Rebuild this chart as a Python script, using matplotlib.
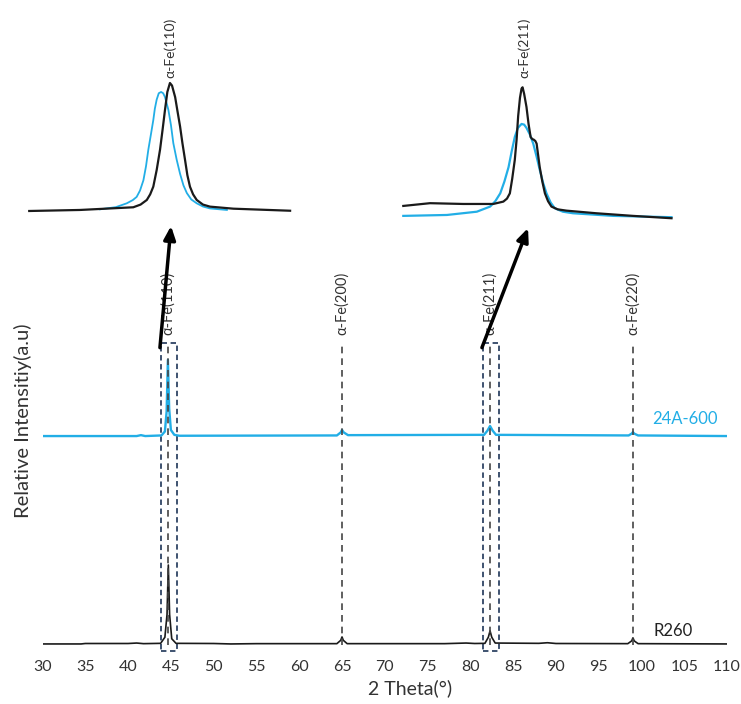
import matplotlib
matplotlib.use("Agg")
import matplotlib.pyplot as plt
from matplotlib.patches import Rectangle

plt.rcParams['font.family'] = ['Lato', 'DejaVu Sans']

# main XRD traces (2 theta in degrees, intensity in a.u.)
r260_2theta = [30, 34.5, 35, 40, 41, 41.8, 43.8, 44.3, 44.55, 44.7, 44.85, 45.1, 45.6, 50, 52, 55,
               64.4, 64.85, 65.0, 65.15, 65.6, 77, 79.5, 80.5, 81.7, 82.1, 82.3, 82.5, 82.9,
               88, 89, 90, 98.4, 98.85, 99.0, 99.15, 99.6, 110]
r260_int = [0.3, 0.3, 0.45, 0.45, 0.6, 0.4, 0.5, 2.5, 10, 26.2, 10, 2, 0.5, 0.45, 0.3, 0.4,
            0.4, 1.5, 2.6, 1.5, 0.4, 0.4, 0.6, 0.45, 0.5, 2.5, 4.6, 2.5, 0.6,
            0.5, 0.7, 0.45, 0.4, 1.3, 2.3, 1.3, 0.4, 0.3]

a24_2theta = [30, 41, 41.5, 42, 43.9, 44.3, 44.5, 44.65, 44.8, 45.0, 45.4, 46,
              64.4, 64.85, 65.0, 65.2, 65.7, 81.6, 82.0, 82.3, 82.6, 83.0,
              98.5, 98.85, 99.0, 99.15, 99.6, 110]
a24_int = [0, 0, 0.3, 0, 0.2, 1.5, 8, 25, 9, 2, 0.4, 0.1,
           0.2, 1.2, 2.0, 1.2, 0.3, 0.4, 1.8, 3.3, 1.8, 0.4,
           0.2, 0.8, 1.3, 0.8, 0.2, 0]
a24_offset = 68.5

peak_pos = [44.7, 65.0, 82.3, 99.0]
peak_names = ['α-Fe(110)', 'α-Fe(200)', 'α-Fe(211)', 'α-Fe(220)']
boxes = [(43.82, 45.69), (81.45, 83.4)]

# zoomed peaks (normalised)
z110_r260_x = [39.27, 41.22, 43.27, 43.55, 43.79, 43.92, 44.04, 44.17, 44.30, 44.40, 44.49, 44.58,
               44.68, 44.76, 44.88, 44.97, 45.07, 45.16, 45.26, 45.35, 45.45, 45.57, 45.71, 45.95,
               46.22, 47.12, 49.3]
z110_r260_y = [0.0, 0.008, 0.029, 0.05, 0.086, 0.13, 0.19, 0.32, 0.48, 0.64, 0.79, 0.93,
               1.0, 0.98, 0.89, 0.78, 0.66, 0.53, 0.40, 0.28, 0.19, 0.13, 0.086, 0.05,
               0.034, 0.018, 0.002]
z110_a24_x = [41.99, 42.6, 43.02, 43.25, 43.40, 43.53, 43.66, 43.76, 43.85, 43.95, 44.04, 44.10,
              44.17, 44.25, 44.34, 44.42, 44.49, 44.62, 44.72, 44.81, 44.94, 45.07, 45.20, 45.33,
              45.50, 45.71, 45.95, 46.22, 46.87]
z110_a24_y = [0.013, 0.03, 0.06, 0.085, 0.11, 0.16, 0.24, 0.35, 0.48, 0.60, 0.71, 0.80,
              0.87, 0.92, 0.93, 0.92, 0.89, 0.79, 0.67, 0.53, 0.40, 0.29, 0.20, 0.14,
              0.09, 0.06, 0.035, 0.02, 0.008]
z211_r260_x = [77.71, 78.74, 80.02, 81.17, 81.56, 81.70, 81.81, 81.90, 82.0, 82.07, 82.13, 82.20,
               82.26, 82.30, 82.36, 82.45, 82.53, 82.61, 82.67, 82.73, 82.79, 82.84, 82.90, 82.96,
               83.06, 83.16, 83.28, 83.41, 83.65, 83.99, 85.14, 86.55, 88.03]
z211_r260_y = [0.094, 0.115, 0.109, 0.109, 0.127, 0.15, 0.19, 0.30, 0.445, 0.60, 0.78, 0.92,
               0.99, 1.0, 0.95, 0.85, 0.72, 0.62, 0.605, 0.60, 0.59, 0.57, 0.48, 0.39,
               0.28, 0.19, 0.13, 0.089, 0.068, 0.058, 0.038, 0.018, 0.0]
z211_a24_x = [77.71, 79.39, 80.54, 81.05, 81.25, 81.44, 81.60, 81.76, 81.88, 82.0, 82.12, 82.26,
              82.36, 82.45, 82.58, 82.71, 82.84, 82.96, 83.09, 83.22, 83.38, 83.54, 83.85, 84.24,
              85.78, 88.03]
z211_a24_y = [0.018, 0.025, 0.05, 0.089, 0.13, 0.19, 0.28, 0.39, 0.51, 0.62, 0.69, 0.72,
              0.715, 0.69, 0.64, 0.57, 0.47, 0.37, 0.27, 0.19, 0.12, 0.076, 0.05, 0.038,
              0.018, 0.008]

blue = '#22aee6'
dark = '#1a1a1a'
navy = '#2f4464'

fig = plt.figure(figsize=(7.41, 7.04), dpi=100)
ax = fig.add_axes([0.0574, 0.071, 0.9238, 0.446])

ax.plot(r260_2theta, r260_int, color=dark, lw=1.2)
ax.plot(a24_2theta, [v + a24_offset for v in a24_int], color=blue, lw=1.7)

for x, name in zip(peak_pos, peak_names):
    ax.plot([x, x], [0, 99], color='#444444', lw=1.2, ls=(0, (4, 3)))
    ax.text(x, 101.5, name, rotation=90, ha='center', va='bottom', fontsize=10.5, color='#333333')

for x0, x1 in boxes:
    ax.add_patch(Rectangle((x0, -2), x1 - x0, 101, fill=False, ec=navy, lw=1.3,
                           ls=(0, (3, 2)), clip_on=False))

ax.text(101.2, 74, '24A-600', color=blue, fontsize=12, va='center')
ax.text(101.4, 4.6, 'R260', color='#222222', fontsize=12, va='center')

ax.set_xlim(30, 110)
ax.set_ylim(-3, 100)
ax.set_xticks(range(30, 111, 5))
ax.set_yticks([])
ax.tick_params(axis='x', length=0, pad=4, labelsize=11.5, labelcolor='#333333')
for s in ax.spines.values():
    s.set_visible(False)
ax.set_xlabel('2 Theta(°)', fontsize=14, color='#333333')
ax.xaxis.set_label_coords(0.537, -0.08)
ax.set_ylabel('Relative Intensitiy(a.u)', fontsize=14.5, color='#333333')
ax.yaxis.set_label_coords(-0.016, 0.742)

# arrows from boxes to the zoomed views
heads = [(0.2308, 0.679), (0.7126, 0.676)]
for (x0, x1), h in zip(boxes, heads):
    ax.annotate('', xy=h, xycoords='figure fraction', xytext=(x0 - 0.1, 97.5), textcoords='data',
                arrowprops=dict(arrowstyle='-|>,head_length=0.8,head_width=0.35', color='black',
                                lw=2.5, shrinkA=0, shrinkB=0))

# insets
ax1 = fig.add_axes([0.0405, 0.7003, 0.351, 0.1818])
ax1.plot(z110_a24_x, z110_a24_y, color=blue, lw=1.3, clip_on=False)
ax1.plot(z110_r260_x, z110_r260_y, color=dark, lw=1.6, clip_on=False)
ax1.set_xlim(39.3, 49.3)
ax1.set_ylim(0, 1)
ax1.axis('off')
fig.text(170 / 741, 1 - 78 / 704, 'α-Fe(110)', rotation=90, ha='center', va='bottom',
         fontsize=10, color='#333333')

ax2 = fig.add_axes([0.5439, 0.690, 0.363, 0.186])
ax2.plot(z211_a24_x, z211_a24_y, color=blue, lw=1.6, clip_on=False)
ax2.plot(z211_r260_x, z211_r260_y, color=dark, lw=1.6, clip_on=False)
ax2.set_xlim(77.7, 88.05)
ax2.set_ylim(0, 1)
ax2.axis('off')
fig.text(524 / 741, 1 - 78 / 704, 'α-Fe(211)', rotation=90, ha='center', va='bottom',
         fontsize=10, color='#333333')

fig.savefig('out.png', dpi=100)
